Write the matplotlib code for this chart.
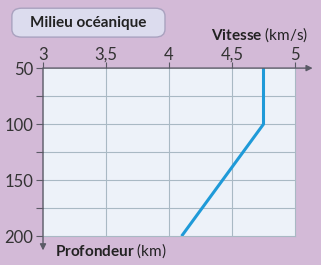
import matplotlib.pyplot as plt
from matplotlib.patches import FancyBboxPatch

plt.rcParams["font.family"] = "Lato"
plt.rcParams["mathtext.fontset"] = "custom"
plt.rcParams["mathtext.rm"] = "Lato"
plt.rcParams["mathtext.bf"] = "Lato:bold"

# Vitesse des ondes P en fonction de la profondeur (milieu océanique)
vitesse = [4.75, 4.75, 4.1]
profondeur = [50, 100, 200]

x_ticks = [3, 3.5, 4, 4.5, 5]
x_labels = ["3", "3,5", "4", "4,5", "5"]
y_ticks = [50, 75, 100, 125, 150, 175, 200]
y_labels = ["50", "", "100", "", "150", "", "200"]
y_grid = [75, 100, 125, 150, 175]

bg = "#d3bad7"
axis_col = "#5a5a66"
grid_col = "#a9b9c4"

fig = plt.figure(figsize=(3.21, 2.65), dpi=100, facecolor=bg)
ax = fig.add_axes([0.134, 0.109, 0.785, 0.634])
ax.set_facecolor("#edf2f9")

ax.plot(vitesse, profondeur, color="#1f9ad8", linewidth=2.2, solid_capstyle="butt", zorder=3)

ax.set_xlim(3, 5)
ax.set_ylim(200, 50)

ax.xaxis.tick_top()
ax.set_xticks(x_ticks)
ax.set_xticklabels(x_labels)
ax.set_yticks(y_ticks)
ax.set_yticklabels(y_labels)
ax.tick_params(axis="x", length=4, width=0.8, color=axis_col, labelsize=12,
               labelcolor="#333333", pad=0)
ax.tick_params(axis="y", length=5, width=0.8, color=axis_col, labelsize=12,
               labelcolor="#333333", pad=2)

for v in x_ticks[1:-1]:
    ax.axvline(v, color=grid_col, linewidth=0.8, zorder=1)
for d in y_grid:
    ax.axhline(d, color=grid_col, linewidth=0.8, zorder=1)

for s in ["right", "bottom"]:
    ax.spines[s].set_color(grid_col)
    ax.spines[s].set_linewidth(0.8)
for s in ["top", "left"]:
    ax.spines[s].set_visible(False)

# axes with arrows
ax.annotate("", xy=(1.07, 1), xytext=(0, 1), xycoords="axes fraction",
            arrowprops=dict(arrowstyle="-|>", color=axis_col, lw=1.0,
                            mutation_scale=9, shrinkA=0, shrinkB=0),
            annotation_clip=False)
ax.annotate("", xy=(0, -0.085), xytext=(0, 1), xycoords="axes fraction",
            arrowprops=dict(arrowstyle="-|>", color=axis_col, lw=1.0,
                            mutation_scale=9, shrinkA=0, shrinkB=0),
            annotation_clip=False)

fig.text(0.96, 0.852, r"$\bf{Vitesse}$ (km/s)", ha="right", va="baseline",
         fontsize=11, color="#222222")
fig.text(0.17, 0.035, r"$\bf{Profondeur}$ (km)", ha="left", va="baseline",
         fontsize=11, color="#222222")

# title box
box = FancyBboxPatch((0.037, 0.86), 0.477, 0.109, boxstyle="round,pad=0,rounding_size=0.03",
                     transform=fig.transFigure, facecolor="#dcdcee", edgecolor="#a9a2bf",
                     linewidth=1.0)
fig.patches.append(box)
fig.text(0.274, 0.913, "Milieu océanique", ha="center", va="center",
         fontsize=11, fontweight="bold", color="#222222")

fig.savefig("out.png", dpi=100, facecolor=bg)
